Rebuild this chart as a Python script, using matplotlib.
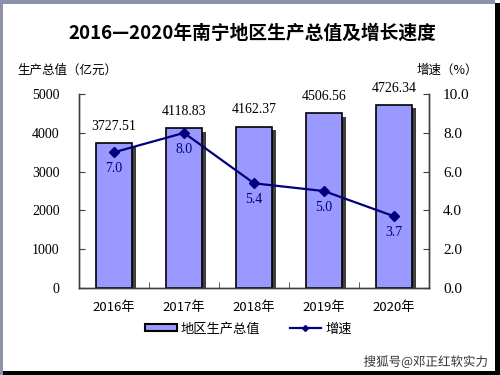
import matplotlib
matplotlib.use("Agg")
import matplotlib.pyplot as plt
import matplotlib.patheffects as pe
from matplotlib.patches import Rectangle
from matplotlib.lines import Line2D
import numpy as np

years = ["2016年", "2017年", "2018年", "2019年", "2020年"]
gdp = [3727.51, 4118.83, 4162.37, 4506.56, 4726.34]
growth = [7.0, 8.0, 5.4, 5.0, 3.7]

cjk = ["Noto Sans CJK SC", "DejaVu Sans"]
num = ["Liberation Serif", "Noto Sans CJK SC"]
bar_color = "#9999ff"
line_color = "#000080"

fig = plt.figure(figsize=(5, 3.75), dpi=100)
ax = fig.add_axes([0.158, 0.232, 0.7, 0.517])
ax2 = ax.twinx()

x = np.arange(len(years))
bars = ax.bar(x, gdp, width=0.52, color=bar_color, edgecolor="black", linewidth=1.2, zorder=2)
for b in bars:
    b.set_path_effects([pe.SimplePatchShadow(offset=(2.5, -2.5), shadow_rgbFace="black", alpha=0.75),
                        pe.Normal()])
for xi, v in zip(x, gdp):
    ax.annotate(f"{v:.2f}", (xi, v), xytext=(0, 12), textcoords="offset points",
                ha="center", va="center", fontsize=10, family=num)

ax2.plot(x, growth, color=line_color, lw=1.6, marker="D", ms=5.5, zorder=3)
for xi, v in zip(x, growth):
    ax2.annotate(f"{v:.1f}", (xi, v), xytext=(0, -12), textcoords="offset points",
                 ha="center", va="center", fontsize=10, family=num, color=line_color)

ax.set_xlim(-0.5, 4.5)
ax.set_ylim(0, 5000)
ax2.set_ylim(0, 10)
ax.set_yticks(range(0, 5001, 1000))
ax2.set_yticks(np.arange(0, 10.1, 2))
ax2.set_yticklabels([f"{t:.1f}" for t in np.arange(0, 10.1, 2)])
ax.set_xticks(x)
ax.set_xticklabels(years, family=cjk, fontsize=9.5)
ax.set_xticks(np.arange(-0.5, 4.6, 1), minor=True)
ax.tick_params(axis="x", which="major", length=0, pad=9)
ax.tick_params(axis="x", which="minor", direction="in", length=4, color="#404040")
ax.tick_params(axis="y", direction="in", length=4, pad=14, color="#404040", labelsize=10)
ax2.tick_params(axis="y", direction="in", length=4, pad=10, color="#404040", labelsize=11)
for lab in ax.get_yticklabels() + ax2.get_yticklabels():
    lab.set_family(num)

for a in (ax, ax2):
    a.spines["top"].set_visible(False)
    for s in ("left", "right", "bottom"):
        a.spines[s].set_color("#404040")
        a.spines[s].set_linewidth(1)

fig.text(0.504, 0.912, "2016—2020年南宁地区生产总值及增长速度", ha="center", va="center",
         fontsize=13.5, fontweight="bold", family=cjk)
fig.text(0.034, 0.813, "生产总值（亿元）", ha="left", va="center", fontsize=9, family=cjk)
fig.text(0.956, 0.813, "增速（%）", ha="right", va="center", fontsize=9, family=cjk)

handles = [Rectangle((0, 0), 1, 1, facecolor=bar_color, edgecolor="black", lw=1.5),
           Line2D([], [], color=line_color, lw=1.6, marker="D", ms=3)]
fig.legend(handles, ["地区生产总值", "增速"], loc="center", bbox_to_anchor=(0.497, 0.123),
           ncol=2, frameon=False, prop={"family": cjk, "size": 9.5},
           handlelength=2.4, handleheight=0.5, handletextpad=0.3, columnspacing=2.2)

fig.text(0.976, 0.035, "搜狐号@邓正红软实力", ha="right", va="center", fontsize=9,
         family=cjk, color="#333333",
         path_effects=[pe.withStroke(linewidth=2, foreground="white")])

# picture frame
fig.patches.append(Rectangle((0, 0.99), 0.99, 0.01, transform=fig.transFigure,
                             facecolor="#8c92a8", edgecolor="none"))
fig.patches.append(Rectangle((0, 0), 0.005, 1, transform=fig.transFigure,
                             facecolor="#8c92a8", edgecolor="none"))
fig.patches.append(Rectangle((0.006, 0), 0.994, 0.011, transform=fig.transFigure,
                             facecolor="black", edgecolor="none"))
fig.patches.append(Rectangle((0.99, 0), 0.01, 0.992, transform=fig.transFigure,
                             facecolor="black", edgecolor="none"))

fig.savefig("out.png", dpi=100)
